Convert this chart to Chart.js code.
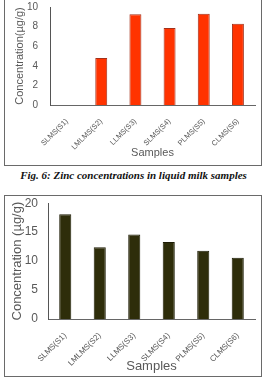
<!DOCTYPE html>
<html>
<head>
<meta charset="utf-8">
<script src="https://cdn.jsdelivr.net/npm/chart.js@4.4.0/dist/chart.umd.min.js"></script>
<style>
  body { margin: 0; background: #fff; width: 267px; height: 378px; overflow: hidden; position: relative; }
  .box { position: absolute; left: 4px; width: 256px; border: 1px solid #6a6a6a; }
  #box1 { top: -2px; height: 166px; }
  #box2 { top: 195px; height: 180px; }
  .cap { position: absolute; left: 0; width: 267px; top: 169px; text-align: center;
         font: bold italic 11px "Liberation Serif", "DejaVu Serif", serif; color: #111; }
</style>
</head>
<body>
<div class="box" id="box1"><canvas id="c1" width="256" height="166"></canvas></div>
<div class="cap">Fig. 6: Zinc concentrations in liquid milk samples</div>
<div class="box" id="box2"><canvas id="c2" width="256" height="180"></canvas></div>
<script>
const samples = ['SLMS(S1)', 'LMLMS(S2)', 'LLMS(S3)', 'SLMS(S4)', 'PLMS(S5)', 'CLMS(S6)'];
const zincValues = [0, 4.8, 9.25, 7.85, 9.3, 8.3];
const secondValues = [18.1, 12.4, 14.6, 13.3, 11.8, 10.6];
const zincTicks = [0, 2, 4, 6, 8, 10];
const secondTicks = [0, 5, 10, 15, 20];

const textGray = '#595959';
const fontName = '"Liberation Sans", Arial, sans-serif';

function makeChart(id, values, ticks, opts) {
  return new Chart(document.getElementById(id), {
    type: 'bar',
    data: {
      labels: samples,
      datasets: [{
        data: values,
        backgroundColor: opts.fill,
        borderColor: opts.edge,
        borderWidth: 1,
        barPercentage: 0.35,
        categoryPercentage: 1
      }]
    },
    options: {
      responsive: false,
      animation: false,
      layout: { padding: { left: 0, right: 6, top: opts.top, bottom: 0 } },
      plugins: { legend: { display: false }, tooltip: { enabled: false } },
      scales: {
        x: {
          grid: { display: false, drawTicks: false },
          border: { display: true, color: '#666', width: 1 },
          ticks: {
            color: textGray, autoSkip: false, minRotation: 45, maxRotation: 45,
            padding: 12, font: { family: fontName, size: opts.xTickSize }
          },
          title: {
            display: true, text: 'Samples', color: textGray,
            font: { family: fontName, size: opts.titleSize },
            padding: { top: 0, bottom: opts.xTitlePad }
          },
          afterFit: s => { s.height = opts.xHeight; }
        },
        y: {
          min: ticks[0], max: ticks[ticks.length - 1],
          // hidden tick marks keep the gap between labels and axis
          grid: { display: false, drawTicks: true, tickLength: opts.yGap },
          border: { display: true, color: '#555', width: 1 },
          afterBuildTicks: s => { s.ticks = ticks.map(v => ({ value: v })); },
          ticks: { color: textGray, padding: 0, font: { family: fontName, size: opts.yTickSize } },
          title: {
            display: true, text: opts.yTitle, color: textGray,
            font: { family: fontName, size: opts.titleSize },
            padding: { top: opts.yTitlePad, bottom: 0 }
          },
          afterFit: s => { s.width = opts.yWidth; }
        }
      }
    }
  });
}

makeChart('c1', zincValues, zincTicks, {
  fill: '#ff3300', edge: '#a3301a', top: 8,
  xTickSize: 7.5, titleSize: 11, xTitlePad: 5, xHeight: 60,
  yGap: 12, yTickSize: 10, yTitle: 'Concentration(µg/g)', yTitlePad: 8, yWidth: 45
});

makeChart('c2', secondValues, secondTicks, {
  fill: '#2e2d0a', edge: '#1d1c05', top: 6,
  xTickSize: 8, titleSize: 13, xTitlePad: 2, xHeight: 57,
  yGap: 10, yTickSize: 12, yTitle: 'Concentration (µg/g)', yTitlePad: 5, yWidth: 43
});
</script>
</body>
</html>
